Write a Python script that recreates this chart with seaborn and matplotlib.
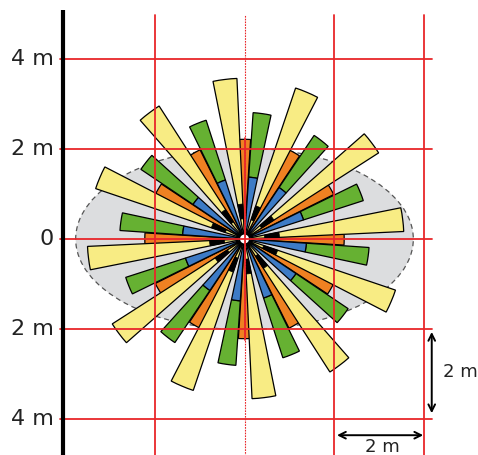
import numpy as np
import matplotlib
matplotlib.use("Agg")
import matplotlib.pyplot as plt
from matplotlib.patches import Wedge, Ellipse, Circle
import seaborn as sns

sns.set_theme(style="white")
plt.rcParams['font.family'] = ['DejaVu Sans']

# ---- data (metres / degrees) ----
yellow_angles = [7, 37, 67, 97, 127, 157, 187, 217, 247, 277, 307, 337]
yellow_len = [3.55, 3.55, 3.55, 3.58, 3.52, 3.5, 3.5, 3.5, 3.56, 3.56, 3.52, 3.55]
black_in = [0.45] * 12
black_out = [0.78] * 12

green_angles = [22, 52, 82, 112, 142, 172, 202, 232, 262, 292, 322, 352]
green_len = [2.78, 2.78, 2.82, 2.78, 2.78, 2.78, 2.78, 2.78, 2.82, 2.78, 2.78, 2.78]
blue_len = [1.38] * 12

orange_angles = [0, 30, 60, 90, 120, 150, 180, 210, 240, 270, 300, 330]
orange_len = [2.22] * 12

grid_x = [-2, 2, 4]
grid_y = [4, 2, 0, -2, -4]
y_tick_labels = ["4 m", "2 m", "0", "2 m", "4 m"]

ellipse_a, ellipse_b = 3.76, 2.02

C_YELLOW = "#F8EC84"
C_GREEN = "#66B132"
C_ORANGE = "#EF8122"
C_BLUE = "#3D7BC6"
C_BLACK = "#000000"
C_GRAY = "#DCDDDF"
C_RED = "#E8262A"

fig = plt.figure(figsize=(4.78, 4.55), dpi=100)
ax = fig.add_axes([0, 0, 1, 1])
s = 44.9
ax.set_xlim(-244.5 / s, (478 - 244.5) / s)
ax.set_ylim((239 - 455) / s, 239 / s)
ax.set_aspect("equal")
ax.axis("off")

# gray ellipse
ax.add_patch(Ellipse((0, 0), 2 * ellipse_a, 2 * ellipse_b, facecolor=C_GRAY,
                     edgecolor="#555555", lw=0.9, ls=(0, (4, 3)), zorder=1))


def spoke(angle, r_in, r_out, width_deg, color, z, lw=0.9):
    ax.add_patch(Wedge((0, 0), r_out, angle - width_deg / 2, angle + width_deg / 2,
                       width=r_out - r_in, facecolor=color, edgecolor="black",
                       lw=lw, zorder=z))


for a, L in zip(orange_angles, orange_len):
    spoke(a, 0, L, 7.0, C_ORANGE, 2)
for a, L, b0, b1 in zip(yellow_angles, yellow_len, black_in, black_out):
    spoke(a, 0, L, 8.6, C_YELLOW, 3)
    spoke(a, b0, b1, 8.6, C_BLACK, 3, lw=0.5)
for a, L, b in zip(green_angles, green_len, blue_len):
    spoke(a, b, L, 8.2, C_GREEN, 4)
    spoke(a, 0, b, 8.2, C_BLUE, 4)

# center marker
ax.add_patch(Circle((0, 0), 0.1, facecolor="white", edgecolor="none", zorder=5))

# red grid
x_left = -4.11
x_right = 4.18
for gy in grid_y:
    ax.plot([x_left, x_right], [gy, gy], color=C_RED, lw=1.3, zorder=6)
for gx in grid_x:
    ax.plot([gx, gx], [-6, 4.99], color=C_RED, lw=1.3, zorder=6)
ax.plot([0, 0], [-6, 4.99], color=C_RED, lw=0.8, ls=(0, (1.5, 1)), zorder=6)
ax.plot([0, 0], [-2.25, 2.25], color=C_RED, lw=1.3, zorder=6)

# black left axis
ax.plot([-4.04, -4.04], [-6, 5.1], color="black", lw=3, zorder=7, solid_capstyle="butt")

for gy, lab in zip(grid_y, y_tick_labels):
    ax.text(-4.25, gy, lab, ha="right", va="center", fontsize=16, color="#222222")

# dimension arrows
ax.annotate("", xy=(4.17, -2.07), xytext=(4.17, -3.88),
            arrowprops=dict(arrowstyle="<->", color="black", lw=1.4, shrinkA=0, shrinkB=0))
ax.text(4.81, -2.96, "2 m", ha="center", va="center", fontsize=13, color="#222222")
ax.annotate("", xy=(2.06, -4.37), xytext=(3.98, -4.37),
            arrowprops=dict(arrowstyle="<->", color="black", lw=1.4, shrinkA=0, shrinkB=0))
ax.text(3.08, -4.64, "2 m", ha="center", va="center", fontsize=13, color="#222222")

fig.savefig("out.png", dpi=100)
